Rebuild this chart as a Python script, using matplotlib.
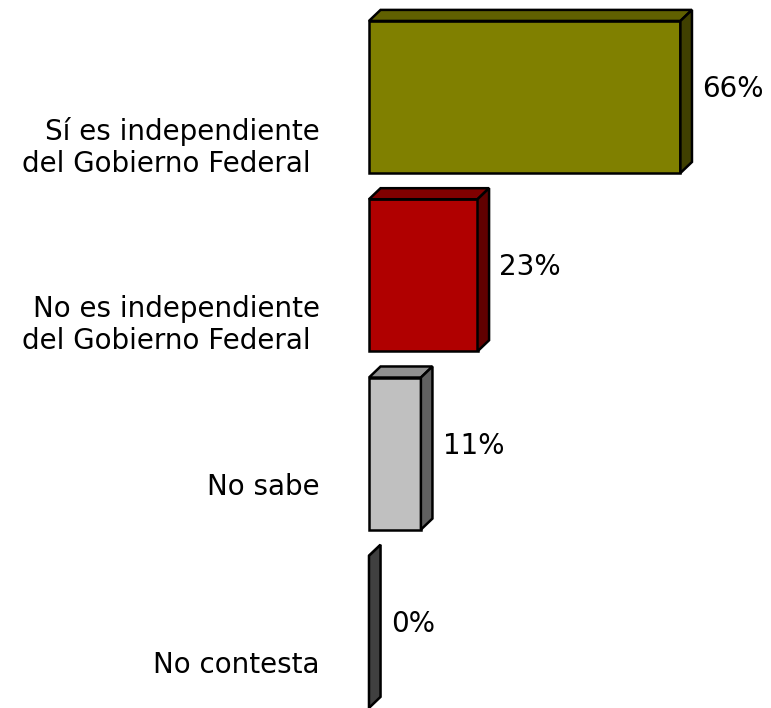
import matplotlib.pyplot as plt
from matplotlib.patches import Polygon

# Datos
categorias = ['Sí es independiente\ndel Gobierno Federal ',
              'No es independiente\ndel Gobierno Federal ',
              'No sabe',
              'No contesta']
valores = [66, 23, 11, 0]
etiquetas = ['66%', '23%', '11%', '0%']

# colores: frente, arriba, lado
colores = [('#808000', '#606000', '#404000'),
           ('#b00000', '#800000', '#600000'),
           ('#c0c0c0', '#909090', '#606060'),
           ('#404040', '#404040', '#404040')]

fig = plt.figure(figsize=(7.71, 7.08), dpi=100)
ax = fig.add_axes([0, 0, 1, 1])
ax.set_xlim(-78.2, 85.2)
ax.set_ylim(3.427, -0.544)
ax.axis('off')

h = 0.853      # alto de la barra
dx = 2.45      # profundidad en x
dy = 0.062     # profundidad en y
lw = 1.8

for i, (v, c) in enumerate(zip(valores, colores)):
    y0 = i - h / 2
    y1 = i + h / 2
    frente = [(0, y0), (v, y0), (v, y1), (0, y1)]
    arriba = [(0, y0), (dx, y0 - dy), (v + dx, y0 - dy), (v, y0)]
    lado = [(v, y0), (v + dx, y0 - dy), (v + dx, y1 - dy), (v, y1)]
    for pts, col in [(frente, c[0]), (arriba, c[1]), (lado, c[2])]:
        ax.add_patch(Polygon(pts, closed=True, facecolor=col, edgecolor='black',
                             linewidth=lw, joinstyle='miter'))
    ax.text(v + dx + 2.2, i - 0.045, etiquetas[i], fontsize=20,
            ha='left', va='center', color='black')
    ax.text(-10.4, i + 0.11, categorias[i], fontsize=20, ha='right', va='top',
            multialignment='right', color='black')

fig.savefig('out.png', dpi=100)
